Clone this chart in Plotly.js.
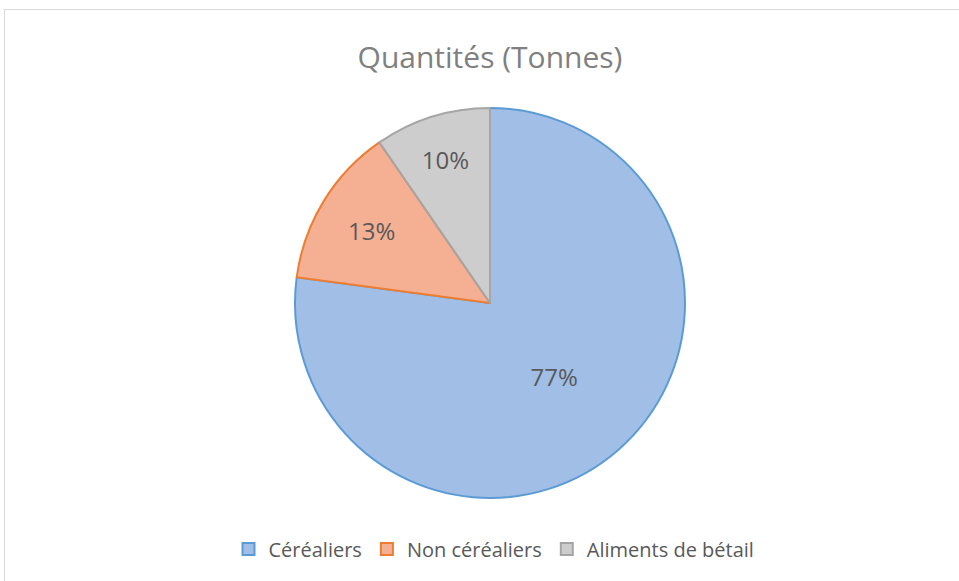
<!DOCTYPE html>
<html>
<head>
<meta charset="utf-8">
<script src="https://cdn.plot.ly/plotly-3.0.1.min.js"></script>
<style>
  html, body { margin: 0; padding: 0; background: #ffffff; }
  #wrap { position: relative; width: 959px; height: 581px; overflow: hidden; }
  #chart { width: 959px; height: 581px; }
  #frame { position: absolute; left: 4px; top: 9px; width: 1200px; height: 1200px;
           border: 1.5px solid #d9d9d9; pointer-events: none; }
</style>
</head>
<body>
<div id="wrap">
  <div id="chart"></div>
  <div id="frame"></div>
</div>
<script>
const categories = ["Céréaliers", "Non céréaliers", "Aliments de bétail"];
const quantities = [771, 133, 96];
const fillColors = ["#a0bee6", "#f5b094", "#cdcdcd"];
const lineColors = ["#5b9bd5", "#ed7d31", "#a5a5a5"];

const W = 959, H = 581;
const cx = 490, cy = 303, R = 195;

const trace = {
  type: "pie",
  labels: categories,
  values: quantities,
  sort: false,
  direction: "clockwise",
  rotation: 0,
  marker: { colors: fillColors, line: { color: lineColors, width: 2 } },
  texttemplate: "%{percent:.0%}",
  textinfo: "percent",
  textposition: "inside",
  insidetextorientation: "horizontal",
  textfont: { family: "'Open Sans', sans-serif", size: 24, color: "#595959" },
  hoverinfo: "label+value+percent",
  domain: {
    x: [(cx - R) / W, (cx + R) / W],
    y: [(H - cy - R) / H, (H - cy + R) / H]
  }
};

const layout = {
  width: W, height: H,
  margin: { l: 0, r: 0, t: 0, b: 0 },
  paper_bgcolor: "#ffffff",
  title: {
    text: "Quantités (Tonnes)",
    font: { family: "'Open Sans', sans-serif", size: 30, color: "#808080" },
    x: 490 / W, xanchor: "center",
    y: 1 - 57 / H, yanchor: "middle",
    xref: "paper", yref: "container"
  },
  showlegend: true,
  legend: {
    orientation: "h",
    x: 494 / W, xanchor: "center",
    y: 1 - 549 / H, yanchor: "middle",
    font: { family: "'Open Sans', sans-serif", size: 20, color: "#595959" },
    itemwidth: 30,
    traceorder: "normal"
  }
};

Plotly.newPlot("chart", [trace], layout, { displayModeBar: false, staticPlot: true });
</script>
</body>
</html>
